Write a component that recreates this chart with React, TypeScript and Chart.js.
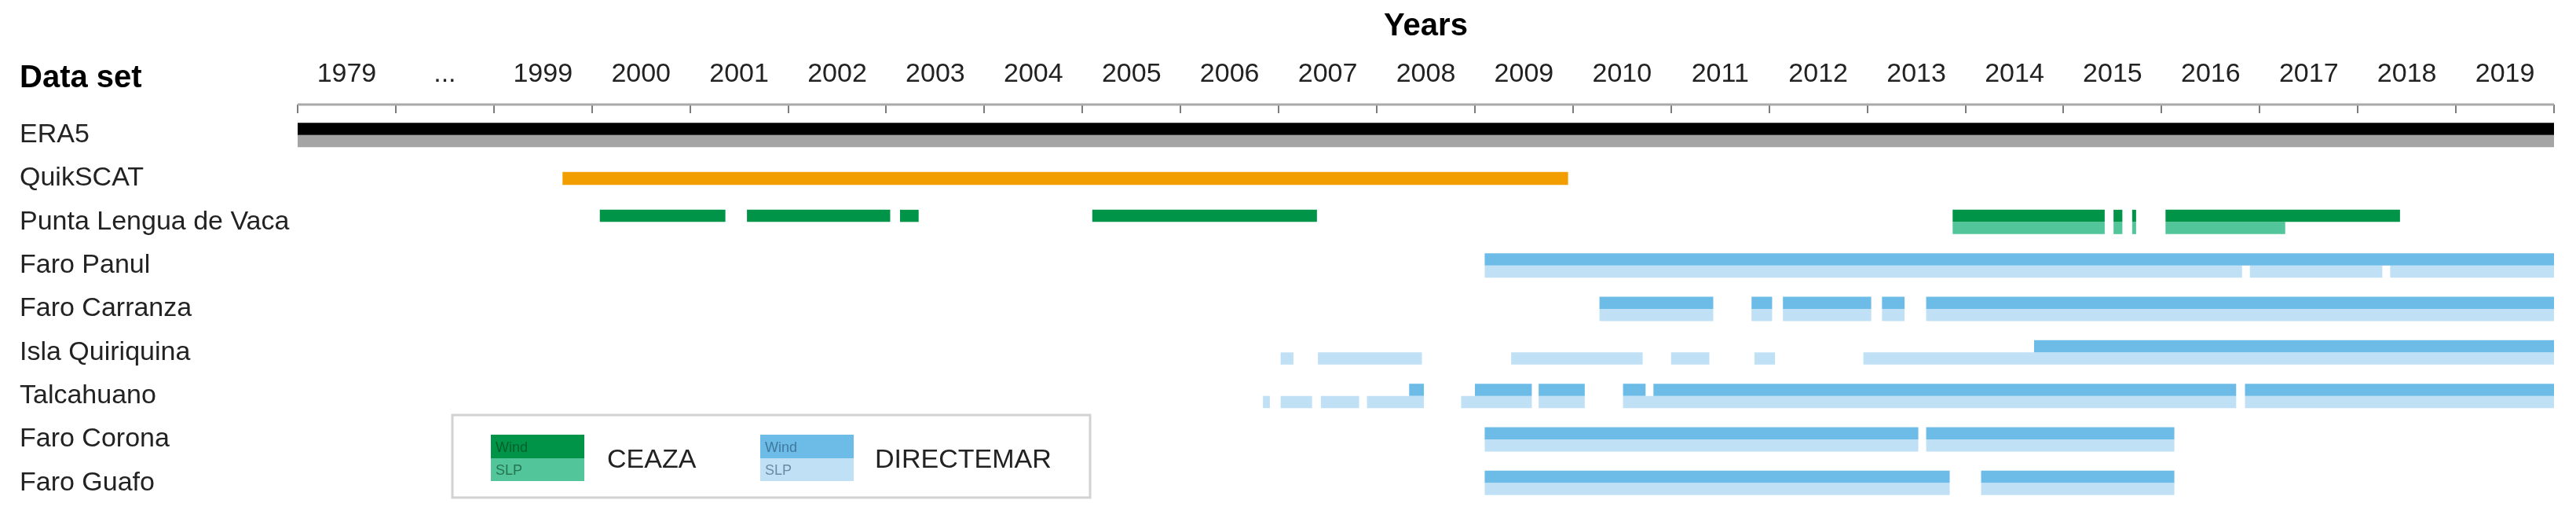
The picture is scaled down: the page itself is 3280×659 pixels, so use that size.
import React, { useEffect, useRef } from 'react';
import { Chart, registerables } from 'chart.js';

Chart.register(...registerables);

// ---------------- data ----------------
const ROWS = [
  'ERA5',
  'QuikSCAT',
  'Punta Lengua de Vaca',
  'Faro Panul',
  'Faro Carranza',
  'Isla Quiriquina',
  'Talcahuano',
  'Faro Corona',
  'Faro Guafo',
];

// provider of each row (drives the colour)
const ROW_SOURCE = ['era5', 'quikscat', 'ceaza', 'directemar', 'directemar', 'directemar', 'directemar', 'directemar', 'directemar'];

const TICK_LABELS = [
  '1979', '...', '1999', '2000', '2001', '2002', '2003', '2004', '2005', '2006', '2007', '2008',
  '2009', '2010', '2011', '2012', '2013', '2014', '2015', '2016', '2017', '2018', '2019',
];

const LEGEND_GROUPS = ['CEAZA', 'DIRECTEMAR'];
const LEGEND_PARTS = ['Wind', 'SLP'];

// periods of available data, in decimal years [start, end]
const ERA5_WIND = [[1979, 2020]];
const ERA5_SLP = [[1979, 2020]];
const QUIKSCAT_WIND = [[1999.7, 2009.95]];
const PUNTA_WIND = [
  [2000.08, 2001.36], [2001.58, 2003.04], [2003.14, 2003.33], [2005.1, 2007.39],
  [2013.87, 2015.42], [2015.51, 2015.6], [2015.7, 2015.74], [2016.04, 2018.43],
];
const PUNTA_SLP = [[2013.87, 2015.42], [2015.51, 2015.6], [2015.7, 2015.74], [2016.04, 2017.26]];
const PANUL_WIND = [[2009.1, 2020]];
const PANUL_SLP = [[2009.1, 2016.82], [2016.9, 2018.25], [2018.33, 2020]];
const CARRANZA_WIND = [[2010.27, 2011.43], [2011.82, 2012.03], [2012.14, 2013.04], [2013.15, 2013.38], [2013.6, 2020]];
const CARRANZA_SLP = [[2010.27, 2011.43], [2011.82, 2012.03], [2012.14, 2013.04], [2013.15, 2013.38], [2013.6, 2020]];
const QUIRIQUINA_WIND = [[2014.7, 2020]];
const QUIRIQUINA_SLP = [[2007.02, 2007.15], [2007.4, 2008.46], [2009.37, 2010.71], [2011.0, 2011.39], [2011.85, 2012.06], [2012.96, 2020]];
const TALCAHUANO_WIND = [[2008.33, 2008.48], [2009.0, 2009.58], [2009.65, 2010.12], [2010.51, 2010.74], [2010.82, 2016.76], [2016.85, 2020]];
const TALCAHUANO_SLP = [
  [2006.84, 2006.91], [2007.02, 2007.34], [2007.43, 2007.82], [2007.9, 2008.48],
  [2008.86, 2009.58], [2009.65, 2010.12], [2010.51, 2016.76], [2016.85, 2020],
];
const CORONA_WIND = [[2009.1, 2013.52], [2013.6, 2016.13]];
const CORONA_SLP = [[2009.1, 2013.52], [2013.6, 2016.13]];
const GUAFO_WIND = [[2009.1, 2013.84], [2014.16, 2016.13]];
const GUAFO_SLP = [[2009.1, 2013.84], [2014.16, 2016.13]];

const WIND_BY_ROW = [ERA5_WIND, null, PUNTA_WIND, PANUL_WIND, CARRANZA_WIND, QUIRIQUINA_WIND, TALCAHUANO_WIND, CORONA_WIND, GUAFO_WIND];
const SLP_BY_ROW = [ERA5_SLP, null, PUNTA_SLP, PANUL_SLP, CARRANZA_SLP, QUIRIQUINA_SLP, TALCAHUANO_SLP, CORONA_SLP, GUAFO_SLP];

// ---------------- styles ----------------
const FONT = "'Liberation Sans', Arial, Helvetica, sans-serif";
const PALETTE: Record<string, { wind: string; slp: string }> = {
  era5: { wind: '#000000', slp: '#a4a4a4' },
  quikscat: { wind: '#f29e00', slp: '#f29e00' },
  ceaza: { wind: '#009448', slp: '#52c69a' },
  directemar: { wind: '#6dbce8', slp: '#bfe0f5' },
};

// the axis compresses 1979..1998 into two columns ("1979" and "...")
const toAxis = (year: number) => (year >= 1999 ? year : 1997 + (year - 1979) / 10);
const AXIS_MIN = toAxis(1979);
const AXIS_MAX = 2020;

function buildPoints(byRow: (number[][] | null)[]) {
  const pts: { x: number[]; y: string }[] = [];
  byRow.forEach((segs, i) => {
    if (!segs) return;
    segs.forEach(([a, b]) => pts.push({ x: [toAxis(a), toAxis(b)], y: ROWS[i] }));
  });
  return pts;
}

const colorOf = (kind: 'wind' | 'slp') => (ctx: any) => {
  const raw = ctx.raw;
  if (!raw) return 'rgba(0,0,0,0)';
  const src = ROW_SOURCE[ROWS.indexOf(raw.y)];
  return PALETTE[src][kind];
};

const TICK_LEN = 11;

const axisLinePlugin = {
  id: 'axisLine',
  afterDraw(chart: any) {
    const s = chart.scales.x;
    const ctx = chart.ctx;
    const y = s.bottom - TICK_LEN;
    ctx.save();
    ctx.strokeStyle = '#a9a9a9';
    ctx.lineWidth = 3;
    ctx.beginPath();
    ctx.moveTo(s.left, y);
    ctx.lineTo(s.right, y);
    ctx.stroke();
    ctx.restore();
  },
};

const headerPlugin = {
  id: 'header',
  afterDraw(chart: any) {
    const ctx = chart.ctx;
    ctx.save();
    ctx.fillStyle = '#000';
    ctx.font = `bold 40px ${FONT}`;
    ctx.textAlign = 'left';
    ctx.textBaseline = 'middle';
    ctx.fillText('Data set', 17, 92);
    ctx.restore();
  },
};

const legendPlugin = {
  id: 'customLegend',
  afterDraw(chart: any) {
    const ctx = chart.ctx;
    ctx.save();
    // box
    ctx.fillStyle = '#ffffff';
    ctx.fillRect(568, 520, 812, 105);
    ctx.strokeStyle = '#d2d2d2';
    ctx.lineWidth = 3;
    ctx.strokeRect(568, 520, 812, 105);

    const groups = [
      { name: LEGEND_GROUPS[0], pal: PALETTE.ceaza, sx: 617, tx: 765, ink: 'rgba(0,50,20,0.55)' },
      { name: LEGEND_GROUPS[1], pal: PALETTE.directemar, sx: 960, tx: 1106, ink: 'rgba(20,50,80,0.5)' },
    ];
    groups.forEach((g) => {
      ctx.fillStyle = g.pal.wind;
      ctx.fillRect(g.sx, 545, 119, 30);
      ctx.fillStyle = g.pal.slp;
      ctx.fillRect(g.sx, 575, 119, 29);
      ctx.fillStyle = g.ink;
      ctx.font = `18px ${FONT}`;
      ctx.textAlign = 'left';
      ctx.textBaseline = 'middle';
      ctx.fillText(LEGEND_PARTS[0], g.sx + 6, 562);
      ctx.fillText(LEGEND_PARTS[1], g.sx + 6, 591);
      ctx.fillStyle = '#222';
      ctx.font = `34px ${FONT}`;
      ctx.fillText(g.name, g.tx, 578);
    });
    ctx.restore();
  },
};

export default function App() {
  const ref = useRef<HTMLCanvasElement | null>(null);

  useEffect(() => {
    if (!ref.current) return;
    const chart = new Chart(ref.current, {
      type: 'bar',
      data: {
        labels: ROWS,
        datasets: [
          {
            label: 'Wind',
            data: buildPoints(WIND_BY_ROW) as any,
            backgroundColor: colorOf('wind') as any,
            categoryPercentage: 0.56,
            barPercentage: 1,
            borderWidth: 0,
          },
          {
            label: 'SLP',
            data: buildPoints(SLP_BY_ROW) as any,
            backgroundColor: colorOf('slp') as any,
            categoryPercentage: 0.56,
            barPercentage: 1,
            borderWidth: 0,
          },
          {
            label: 'QuikSCAT wind',
            data: QUIKSCAT_WIND.map(([a, b]) => ({ x: [toAxis(a), toAxis(b)], y: ROWS[1] })) as any,
            backgroundColor: PALETTE.quikscat.wind,
            grouped: false,
            categoryPercentage: 0.3,
            barPercentage: 1,
            borderWidth: 0,
          } as any,
        ],
      },
      options: {
        indexAxis: 'y',
        animation: false,
        responsive: true,
        maintainAspectRatio: false,
        layout: { padding: { left: 17, right: 20, top: 0, bottom: 9 } },
        plugins: {
          legend: { display: false },
          tooltip: { enabled: false },
          title: { display: false },
        },
        scales: {
          x: {
            type: 'linear',
            position: 'top',
            min: AXIS_MIN,
            max: AXIS_MAX,
            afterBuildTicks: (s: any) => {
              const t: { value: number }[] = [];
              for (let i = 0; i <= TICK_LABELS.length * 2; i++) t.push({ value: AXIS_MIN + i * 0.5 });
              s.ticks = t;
            },
            afterFit: (s: any) => {
              s.height = 136;
              s.paddingLeft = 0;
              s.paddingRight = 0;
            },
            grid: {
              drawOnChartArea: false,
              drawTicks: true,
              tickLength: TICK_LEN,
              lineWidth: 2,
              color: (ctx: any) =>
                ctx.tick && Number.isInteger(ctx.tick.value) ? '#7c7c7c' : 'rgba(0,0,0,0)',
            },
            border: { display: false },
            ticks: {
              autoSkip: false,
              maxRotation: 0,
              minRotation: 0,
              padding: 18,
              color: '#222',
              font: { family: FONT, size: 34 },
              callback: (value: any) => {
                const k = Number(value) - AXIS_MIN - 0.5;
                return Number.isInteger(k) && k >= 0 && k < TICK_LABELS.length ? TICK_LABELS[k] : '';
              },
            },
            title: {
              display: true,
              text: 'Years',
              color: '#000',
              font: { family: FONT, size: 40, weight: 'bold' },
              padding: { top: 2, bottom: 10 },
            },
          },
          y: {
            type: 'category',
            offset: true,
            afterFit: (s: any) => {
              s.width = 354;
              s.paddingTop = 0;
              s.paddingBottom = 0;
            },
            grid: { display: false },
            border: { display: false },
            ticks: {
              crossAlign: 'far',
              padding: 0,
              color: '#222',
              font: { family: FONT, size: 34 },
            },
          },
        },
      } as any,
      plugins: [axisLinePlugin, headerPlugin, legendPlugin],
    });
    return () => chart.destroy();
  }, []);

  return (
    <div style={{ position: 'relative', width: '3264px', height: '643px' }}>
      <canvas ref={ref} />
    </div>
  );
}
